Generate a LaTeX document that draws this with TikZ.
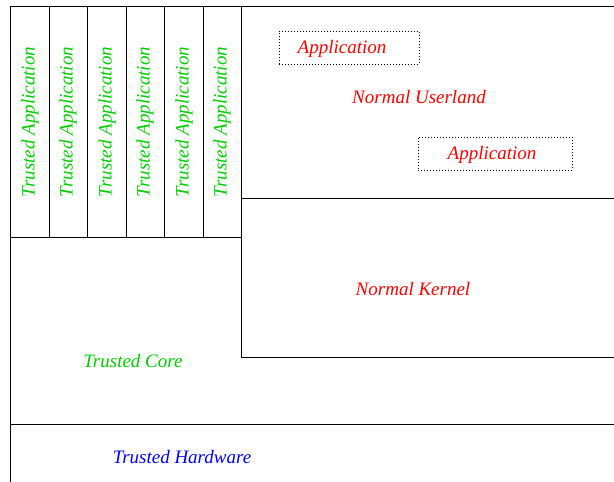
\documentclass[tikz,border=0pt]{standalone}
\usepackage{fontspec}
\setmainfont{Liberation Serif}[ItalicFont={Liberation Serif Italic}]
\newfontfamily\lblfont{Liberation Serif Italic}
\definecolor{tgreen}{RGB}{0,205,0}
\definecolor{nred}{RGB}{255,0,0}
\definecolor{hblue}{RGB}{0,0,255}
\begin{document}
\begin{tikzpicture}[x=1pt,y=-1pt,
  wall/.style={line width=0.8pt,black},
  lbl/.style={font=\fontsize{19}{22}\selectfont\lblfont,inner sep=0pt},
  appbox/.style={draw,line width=0.7pt,dash pattern=on 0.8pt off 2.2pt,inner sep=0pt}]
\useasboundingbox (0,0) rectangle (614,482);
% outer frame (runs off the right and bottom edges)
\draw[wall] (614,6) -- (10,6) -- (10,482);
% trusted application columns
\foreach \x in {49,87,126,164,203} \draw[wall] (\x,6) -- (\x,237);
\draw[wall] (10,237) -- (241,237);
\draw[wall] (241,6) -- (241,357) -- (614,357);
\draw[wall] (241,198) -- (614,198);
\draw[wall] (10,424) -- (614,424);
% labels
\foreach \x/\n in {30/1,68/2,107/3,145/4,184/5,222/6}
  \node[lbl,text=tgreen,rotate=90] (ta\n) at (\x,122) {Trusted Application};
\node[appbox,minimum width=140pt,minimum height=33pt] (app1) at (349,47.5) {};
\node[lbl,text=nred] (app1t) at (342,49) {Application};
\node[appbox,minimum width=154pt,minimum height=33pt] (app2) at (495,153.5) {};
\node[lbl,text=nred] (app2t) at (492,155) {Application};
\node[lbl,text=nred] (user) at (419,97) {Normal Userland};
\node[lbl,text=nred] (kern) at (413,289) {Normal Kernel};
\node[lbl,text=tgreen] (core) at (133,361) {Trusted Core};
\node[lbl,text=hblue] (hw) at (182,457) {Trusted Hardware};
\end{tikzpicture}
\end{document}
